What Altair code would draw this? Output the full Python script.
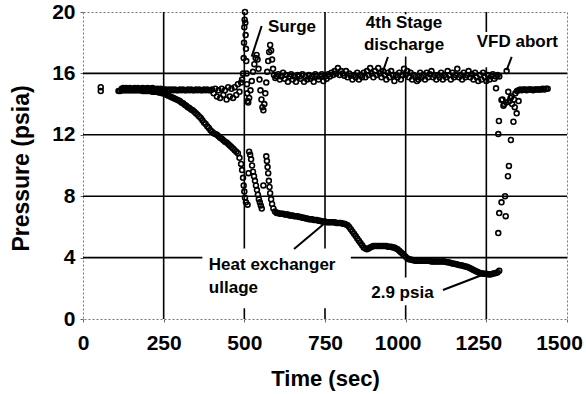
import altair as alt
import pandas as pd

# ---------------- data ----------------
# 4th Stage discharge (time in s, pressure in psia)
disc_time = [
    55, 55,
    120, 125, 130, 135, 140, 145, 150, 155, 160, 165, 170, 175, 180, 185,
    190, 195, 200, 205, 210, 215, 220, 225, 230, 235, 240, 245, 250,
    255, 260, 265, 270, 275, 280, 285, 290, 295, 300, 305, 310, 315, 320, 325,
    330, 335, 340, 345, 350, 355, 360, 365, 370, 375, 380, 385, 390, 395, 400,
    405, 410, 415, 420, 425, 430, 435, 440, 445, 450, 455, 460, 465, 470, 475,
    480, 485, 490, 493,
    496, 498, 499, 500, 501, 502, 503, 504, 505, 506, 507, 508, 509, 510, 512,
    515, 519, 523, 527, 531, 535, 538, 541, 544, 547, 550, 553, 556, 559, 562,
    565, 568, 571, 574, 577, 580, 583, 586, 589, 592, 596,
    600, 605, 610, 615, 620, 625, 630, 635, 640, 645, 650, 655, 660, 665, 670,
    675, 680, 685, 690, 695, 700, 705, 710, 715, 720, 725, 730, 735, 740, 745,
    750, 755, 760, 765, 770, 775, 780, 785, 790, 795, 800, 805, 810, 815, 820,
    825, 830, 835, 840, 845, 850, 855, 860, 865, 870, 875, 880, 885, 890, 895,
    900, 905, 910, 915, 920, 925, 930, 935, 940, 945, 950, 955, 960, 965, 970,
    975, 980, 985, 990, 995, 1000, 1005, 1010, 1015, 1020, 1025, 1030, 1035,
    1040, 1045, 1050, 1055, 1060, 1065, 1070, 1075, 1080, 1085, 1090, 1095,
    1100, 1105, 1110, 1115, 1120, 1125, 1130, 1135, 1140, 1145, 1150, 1155,
    1160, 1165, 1170, 1175, 1180, 1185, 1190, 1195, 1200, 1205, 1210, 1215,
    1220, 1225, 1230, 1235, 1240, 1245, 1250, 1255, 1260, 1265, 1270, 1275,
    1280, 1285, 1290,
    1313, 1280, 1297, 1303, 1289, 1287, 1334, 1326, 1320, 1317, 1308, 1297,
    1290, 1310, 1287, 1318, 1344,
    1300, 1305, 1312, 1322, 1325, 1328, 1330, 1336, 1338, 1340, 1345, 1350,
    1350, 1355, 1360, 1365, 1370, 1375, 1380, 1385, 1390, 1395, 1400, 1405,
    1410, 1415, 1420, 1425, 1430, 1435, 1440,
]
disc_p = [
    15.1, 14.85,
    15.0, 15.05, 15.0, 15.05, 15.0, 15.05, 15.0, 15.0, 15.05, 15.0, 15.05, 15.0, 15.0, 15.05,
    15.0, 15.0, 15.05, 15.0, 15.0, 15.05, 15.0, 14.95, 15.0, 14.95, 15.0, 14.95, 14.95,
    14.95, 14.9, 14.95, 14.9, 14.95, 14.9, 14.95, 14.9, 14.9, 14.95, 14.9, 14.95, 14.9, 14.9, 14.95,
    14.9, 14.95, 14.9, 14.9, 14.95, 14.9, 14.95, 14.9, 14.9, 14.95, 14.9, 14.95, 14.9, 14.9, 14.95,
    14.7, 15.0, 14.5, 14.9, 14.4, 15.0, 14.6, 14.9, 14.3, 15.1, 14.5, 15.0, 14.4, 15.1, 14.6,
    15.3, 14.8, 15.4, 15.6,
    16.0, 17.0, 18.0, 19.0, 19.5, 20.0, 19.3, 18.5, 17.6, 16.8, 16.0, 15.3, 14.7, 14.2, 14.1,
    14.4, 14.9, 15.5, 16.1, 16.6, 17.0, 17.2, 16.9, 16.3, 15.6, 14.9, 14.3, 13.8, 13.6, 14.0,
    14.7, 15.4, 16.1, 16.8, 17.4, 17.85, 17.5, 16.9, 16.3, 15.9, 15.7,
    15.8, 15.95, 15.6, 15.8, 16.05, 15.65, 15.9, 15.45, 15.8, 15.95, 15.6, 15.8, 15.45, 15.9, 15.8,
    15.65, 15.95, 15.45, 15.8, 15.6, 15.9, 15.65, 15.8, 15.45, 15.95, 15.8, 15.6, 15.8, 15.95, 15.5,
    15.8, 15.65, 15.95, 15.8, 16.05, 15.9, 16.15, 16.0, 16.35, 15.9, 16.15, 16.0, 15.85, 16.15, 15.75,
    16.0, 15.85, 15.6, 15.9, 15.75, 16.05, 15.6, 15.9, 15.75, 16.05, 15.75, 16.15, 15.9, 16.35, 16.0,
    15.75, 16.15, 15.9, 16.35, 16.0, 15.75, 16.15, 15.9, 15.6, 16.05, 15.75, 16.15, 15.9, 15.5, 15.9,
    15.75, 16.05, 15.6, 15.9, 16.3, 15.9, 16.15, 15.75, 16.05, 15.6, 15.9, 15.75, 15.5,
    15.6, 16.05, 15.75, 15.9, 15.6, 16.05, 15.75, 15.95, 16.15, 15.75, 15.9, 15.6,
    15.9, 15.75, 16.05, 15.6, 15.9, 15.75, 16.15, 15.9, 15.6, 16.05, 15.75, 15.9,
    16.3, 15.75, 15.9, 15.6, 16.05, 15.75, 15.9, 16.15, 15.75, 15.95, 15.6, 16.05,
    15.75, 15.5, 15.9, 15.6, 16.05, 15.75, 15.5, 15.9, 15.6, 15.8, 15.95, 15.65,
    15.8, 15.9, 15.8,
    16.15, 15.03, 14.27, 13.9, 12.9, 12.05, 12.85, 11.66, 9.97, 9.3, 8.0, 7.6,
    6.9, 6.7, 5.6, 14.8, 13.4,
    14.3, 14.0, 14.1, 14.2, 14.4, 14.5, 14.0, 14.3, 13.8, 14.7, 14.85, 14.9,
    14.2, 14.95, 14.9, 14.95, 14.95, 14.9, 14.95, 14.95, 14.95, 14.9, 14.95, 14.95,
    14.95, 14.95, 14.95, 15.0, 14.95, 15.0, 15.0,
]

# Heat exchanger ullage (time in s, pressure in psia)
ull_time = [
    110, 115, 120, 125, 130, 135, 140, 145, 150, 155, 160, 165, 170, 175, 180,
    185, 190, 195, 200, 205, 210, 215, 220, 225, 230, 235, 240, 245, 250,
    255, 260, 265, 270, 275, 280, 285, 290, 295, 300, 305, 310, 315, 320, 325,
    330, 335, 340, 345, 350, 355, 360, 365, 370, 375, 380, 385, 390, 395, 400,
    405, 410, 415, 420, 425, 430, 435, 440, 445, 450, 455, 460, 465, 470, 475,
    480, 485, 490, 493, 496, 498, 500, 502, 505, 510,
    513, 515, 518, 521, 524, 527, 530, 533, 536, 539, 542, 545, 548, 551, 554,
    559,
    568, 570, 572, 574, 576, 578, 580, 583, 586, 590, 595,
    600, 605, 610, 615, 620, 625, 630, 635, 640, 645, 650, 655, 660, 665, 670,
    675, 680, 685, 690, 695, 700, 705, 710, 715, 720, 725, 730, 735, 740, 745,
    750, 755, 760, 765, 770, 775, 780, 785, 790, 795, 800, 805, 810, 815, 820,
    825, 830, 835, 840, 845, 850, 855, 860, 865, 870, 875, 880, 885, 890, 895,
    900, 905, 910, 915, 920, 925, 930, 935, 940, 945, 950, 955, 960, 965, 970,
    975, 980, 985, 990, 995, 1000, 1005, 1010, 1015, 1020, 1025, 1030, 1035,
    1040, 1045, 1050, 1055, 1060, 1065, 1070, 1075, 1080, 1085, 1090, 1095,
    1100, 1105, 1110, 1115, 1120, 1125, 1130, 1135, 1140, 1145, 1150, 1155,
    1160, 1165, 1170, 1175, 1180, 1185, 1190, 1195, 1200, 1205, 1210, 1215,
    1220, 1225, 1230, 1235, 1240, 1245, 1250, 1255, 1260, 1265, 1270, 1275,
    1280, 1285, 1290,
]
ull_p = [
    14.85, 14.85, 14.9, 14.9, 14.9, 14.9, 14.9, 14.9, 14.9, 14.9, 14.9, 14.9, 14.9, 14.9, 14.9,
    14.85, 14.85, 14.85, 14.85, 14.85, 14.85, 14.8, 14.8, 14.8, 14.8, 14.75, 14.75, 14.7, 14.7,
    14.65, 14.6, 14.55, 14.5, 14.45, 14.4, 14.35, 14.3, 14.25, 14.2, 14.1, 14.05, 13.95, 13.9, 13.8,
    13.75, 13.65, 13.6, 13.5, 13.4, 13.3, 13.2, 13.1, 12.95, 12.8, 12.7, 12.55, 12.45, 12.3, 12.2,
    12.1, 12.05, 12.0, 11.9, 11.8, 11.75, 11.65, 11.55, 11.5, 11.4, 11.3, 11.2, 11.1, 11.0, 10.9,
    10.8, 10.5, 10.1, 9.7, 9.2, 8.7, 8.3, 7.9, 7.6, 7.45,
    9.5, 10.9, 10.7, 10.4, 10.0, 9.6, 9.3, 9.0, 8.7, 8.4, 8.1, 7.8, 7.6, 7.4, 7.2,
    8.7,
    10.6, 10.3, 9.9, 9.5, 9.0, 8.6, 8.2, 7.8, 7.5, 7.2, 7.0,
    6.9, 6.9, 6.85, 6.85, 6.85, 6.8, 6.8, 6.8, 6.75, 6.75, 6.75, 6.7, 6.7, 6.7, 6.65,
    6.65, 6.6, 6.6, 6.55, 6.55, 6.5, 6.5, 6.5, 6.45, 6.45, 6.45, 6.4, 6.4, 6.35, 6.35,
    6.35, 6.3, 6.3, 6.3, 6.3, 6.3, 6.3, 6.25, 6.25, 6.25, 6.25, 6.2, 6.2, 6.15, 6.1,
    6.0, 5.85, 5.7, 5.55, 5.4, 5.25, 5.1, 4.95, 4.8, 4.65, 4.6, 4.55, 4.6, 4.65, 4.7,
    4.75, 4.75, 4.75, 4.75, 4.75, 4.75, 4.75, 4.75, 4.75, 4.7, 4.7, 4.7, 4.65, 4.65, 4.6,
    4.55, 4.45, 4.35, 4.25, 4.15, 4.05, 3.95, 3.9, 3.88, 3.85, 3.83, 3.8, 3.8,
    3.8, 3.8, 3.8, 3.8, 3.8, 3.8, 3.8, 3.78, 3.75, 3.75, 3.75, 3.75,
    3.75, 3.75, 3.75, 3.75, 3.75, 3.72, 3.7, 3.68, 3.65, 3.62, 3.6, 3.58,
    3.55, 3.52, 3.5, 3.48, 3.45, 3.42, 3.4, 3.35, 3.3, 3.25, 3.2, 3.15,
    3.1, 3.05, 3.0, 2.98, 2.95, 2.95, 2.95, 2.92, 2.9, 2.92, 2.95, 2.98,
    3.0, 3.05, 3.15,
]

x_ticks = [0, 250, 500, 750, 1000, 1250, 1500]
y_ticks = [0, 4, 8, 12, 16, 20]
x_grid = [250, 500, 750, 1000, 1250]
y_grid = [4, 8, 12, 16]

# annotations (label text, anchor in data units)
ann_text = ["Surge", "4th Stage", "discharge", "VFD abort", "Heat exchanger", "ullage", "2.9 psia"]
ann_t = [573, 995, 995, 1346, 390, 390, 990]
ann_p = [19.02, 19.28, 17.85, 18.05, 3.52, 2.02, 1.69]
ann_align = ["left", "center", "center", "center", "left", "left", "center"]

# white boxes behind labels
box_t1 = [855, 1205, 370, 875]
box_t2 = [1135, 1490, 830, 1105]
box_p1 = [17.1, 16.4, 0.7, 0.9]
box_p2 = [19.85, 18.7, 4.6, 2.7]

# leader lines
lead_t1 = [553.8, 945, 1328.6, 654, 1115.7]
lead_p1 = [19.09, 17.07, 17.07, 4.56, 1.89]
lead_t2 = [522.8, 925.7, 1313, 750, 1251]
lead_p2 = [17.09, 15.9, 16.22, 6.25, 2.98]

# ---------------- chart ----------------
FONT = "Liberation Sans"
xs = alt.Scale(domain=[0, 1500], nice=False, zero=False)
ys = alt.Scale(domain=[0, 20], nice=False, zero=False)

disc = pd.DataFrame({"t": disc_time, "p": disc_p})
ull = pd.DataFrame({"t": ull_time, "p": ull_p})
ann = pd.DataFrame({"text": ann_text, "t": ann_t, "p": ann_p, "align": ann_align})
boxes = pd.DataFrame({"t1": box_t1, "t2": box_t2, "p1": box_p1, "p2": box_p2})
leads = pd.DataFrame({"t1": lead_t1, "p1": lead_p1, "t2": lead_t2, "p2": lead_p2})

x_axis = alt.Axis(
    values=x_ticks, format="d", grid=False, domain=False, tickSize=3, tickColor="#666",
    labelFont=FONT, labelFontSize=21, labelFontWeight="bold", labelColor="black",
    labelPadding=10, labelFlush=False,
    labelOffset={"expr": "datum.value >= 1000 ? -8 : 0"},
    title="Time (sec)", titleFont=FONT, titleFontSize=22, titleFontWeight="bold",
    titleColor="black", titleBaseline="alphabetic", titleY=66,
)
y_axis = alt.Axis(
    values=y_ticks, format="d", grid=False, domain=False, tickSize=3, tickColor="#666",
    labelFont=FONT, labelFontSize=21, labelFontWeight="bold", labelColor="black",
    labelPadding=5, labelFlush=False,
    title="Pressure (psia)", titleFont=FONT, titleFontSize=23, titleFontWeight="bold",
    titleColor="black", titleBaseline="alphabetic", titleX=-55, titleY=156,
    titleAngle=270,
)


def X(field):
    return alt.X(field, scale=xs, axis=x_axis)


def Y(field):
    return alt.Y(field, scale=ys, axis=y_axis)


base_pts = dict(shape="circle", filled=False, stroke="black", strokeWidth=1.6, size=24, opacity=1)

pts_ull = alt.Chart(ull).mark_point(**base_pts).encode(x=X("t:Q"), y=Y("p:Q"))
pts_disc = alt.Chart(disc).mark_point(**base_pts).encode(x=X("t:Q"), y=Y("p:Q"))

grid_x = alt.Chart(pd.DataFrame({"g": x_grid})).mark_rule(color="black", strokeWidth=1.6).encode(
    x=X("g:Q")
)
grid_y = alt.Chart(pd.DataFrame({"g": y_grid})).mark_rule(color="black", strokeWidth=1.6).encode(
    y=Y("g:Q")
)
box_layer = alt.Chart(boxes).mark_rect(color="white").encode(
    x=X("t1:Q"), x2="t2:Q", y=Y("p1:Q"), y2="p2:Q",
)
lead_layer = alt.Chart(leads).mark_rule(color="black", strokeWidth=2).encode(
    x=X("t1:Q"), x2="t2:Q", y=Y("p1:Q"), y2="p2:Q",
)
txt_left = alt.Chart(ann[ann["align"] == "left"]).mark_text(
    align="left", baseline="middle", font=FONT, fontSize=17, fontWeight="bold", color="black"
).encode(x=X("t:Q"), y=Y("p:Q"), text="text:N")
txt_center = alt.Chart(ann[ann["align"] == "center"]).mark_text(
    align="center", baseline="middle", font=FONT, fontSize=17, fontWeight="bold", color="black"
).encode(x=X("t:Q"), y=Y("p:Q"), text="text:N")

chart = alt.layer(
    grid_x, grid_y, box_layer, pts_ull, pts_disc, lead_layer, txt_left, txt_center
).properties(
    width=484, height=307,
    autosize=alt.AutoSizeParams(type="none"),
    padding={"left": 83, "top": 12, "right": 19, "bottom": 75},
    background="white",
).configure_view(stroke="#777", strokeWidth=1, strokeDash=[2, 2])

chart.save("out.html", embed_options={"renderer": "svg", "actions": False})
